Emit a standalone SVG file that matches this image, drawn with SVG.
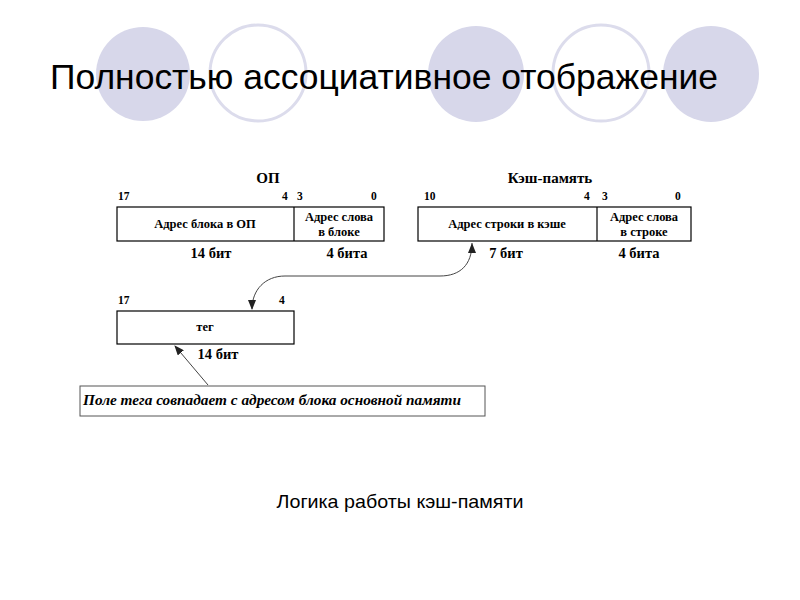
<svg xmlns="http://www.w3.org/2000/svg" width="800" height="600" viewBox="0 0 800 600">
<style>
.disc{fill:#d7d7ea;stroke:none}
.ring{fill:none;stroke:#dcdcec;stroke-width:3}
.title{font-family:"Liberation Sans",Arial,sans-serif;font-size:35px;fill:#000}
.cap{font-family:"Liberation Sans",Arial,sans-serif;font-size:19px;fill:#000;text-anchor:middle}
.box{fill:#fff;stroke:#000;stroke-width:1.2}
.hd{font-family:"Liberation Serif","Times New Roman",serif;font-weight:bold;font-size:15px;text-anchor:middle}
.num{font-family:"Liberation Serif","Times New Roman",serif;font-weight:bold;font-size:11.5px}
.in{font-family:"Liberation Serif","Times New Roman",serif;font-weight:bold;font-size:12.5px;text-anchor:middle}
.bits{font-family:"Liberation Serif","Times New Roman",serif;font-weight:bold;font-size:14.5px;text-anchor:middle}
.note{font-family:"Liberation Serif","Times New Roman",serif;font-weight:bold;font-style:italic;font-size:14.5px}
.conn{fill:none;stroke:#444;stroke-width:1}
</style>
<defs>
<marker id="ah" markerWidth="10" markerHeight="8" refX="9" refY="4" orient="auto" markerUnits="userSpaceOnUse">
<path d="M0,0 L10,4 L0,8 Z" fill="#222"/>
</marker>
</defs>
<g id="background">
<circle class="disc" cx="143" cy="74" r="47"/>
<circle class="ring" cx="258" cy="73" r="48"/>
<circle class="disc" cx="476" cy="74" r="48"/>
<circle class="ring" cx="601" cy="73" r="48"/>
<circle class="disc" cx="711" cy="74" r="48"/>
</g>
<text class="title" x="50" y="89" textLength="668" lengthAdjust="spacingAndGlyphs">Полностью ассоциативное отображение</text>

<g id="op">
<text class="hd" x="268" y="183">ОП</text>
<text class="num" x="118" y="200">17</text>
<text class="num" x="282" y="200">4</text>
<text class="num" x="297" y="200">3</text>
<text class="num" x="371" y="200">0</text>
<rect class="box" x="117" y="207" width="267" height="34"/>
<line x1="294" y1="207" x2="294" y2="241" stroke="#000" stroke-width="1.2"/>
<text class="in" x="205" y="228">Адрес блока в ОП</text>
<text class="in" x="339" y="221">Адрес слова</text>
<text class="in" x="339" y="236">в блоке</text>
<text class="bits" x="211" y="258">14 бит</text>
<text class="bits" x="347" y="258">4 бита</text>
</g>

<g id="cache">
<text class="hd" x="550" y="183">Кэш-память</text>
<text class="num" x="424" y="200">10</text>
<text class="num" x="584" y="200">4</text>
<text class="num" x="602" y="200">3</text>
<text class="num" x="675" y="200">0</text>
<rect class="box" x="418" y="207" width="273" height="34"/>
<line x1="597" y1="207" x2="597" y2="241" stroke="#000" stroke-width="1.2"/>
<text class="in" x="507" y="228">Адрес строки в кэше</text>
<text class="in" x="644" y="221">Адрес слова</text>
<text class="in" x="644" y="236">в строке</text>
<text class="bits" x="506" y="258">7 бит</text>
<text class="bits" x="639" y="258">4 бита</text>
</g>

<g id="tag">
<text class="num" x="118" y="304">17</text>
<text class="num" x="279" y="304">4</text>
<rect class="box" x="117" y="311" width="177" height="33"/>
<text class="in" x="205" y="331">тег</text>
<text class="bits" x="218" y="359">14 бит</text>
</g>

<g id="note">
<rect x="80" y="386" width="405" height="30" fill="#fff" stroke="#555" stroke-width="1"/>
<text class="note" x="83" y="405" textLength="378" lengthAdjust="spacingAndGlyphs">Поле тега совпадает с адресом блока основной памяти</text>
</g>

<g id="connectors">
<path class="conn" d="M472,243 C472,265 460,276 440,276 L285,276 C265,276 252,290 252,309" marker-end="url(#ah)"/>
<path d="M472,243 L468,253 L476,253 Z" fill="#222"/>
<line class="conn" x1="208" y1="385" x2="175" y2="346" marker-end="url(#ah)"/>
</g>

<text class="cap" x="400" y="508" textLength="247" lengthAdjust="spacingAndGlyphs">Логика работы кэш-памяти</text>
</svg>
